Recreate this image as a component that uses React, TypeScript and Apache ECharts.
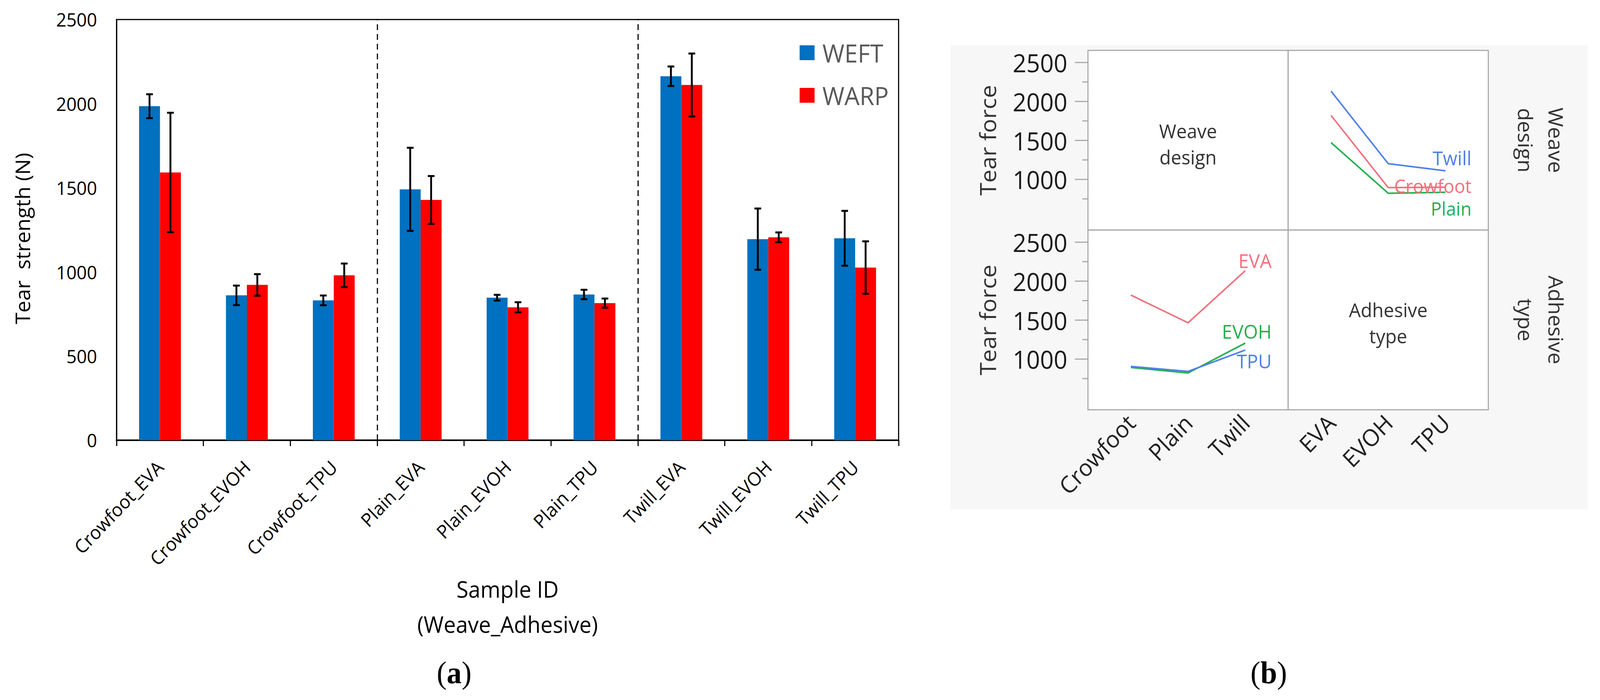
import React, { useEffect, useRef } from "react";
import * as echarts from "echarts";

// ---- Data (a): tear strength per sample ----
const categories = [
  "Crowfoot_EVA", "Crowfoot_EVOH", "Crowfoot_TPU",
  "Plain_EVA", "Plain_EVOH", "Plain_TPU",
  "Twill_EVA", "Twill_EVOH", "Twill_TPU",
];
const weftValues = [1985, 861, 831, 1491, 847, 866, 2163, 1195, 1200];
const weftErrors = [71, 58, 29, 247, 17, 28, 58, 182, 163];
const warpValues = [1591, 923, 980, 1428, 790, 815, 2111, 1206, 1026];
const warpErrors = [355, 64, 70, 142, 30, 27, 187, 29, 156];
const groupBoundaries = [3, 6];

// ---- Data (b): interaction profiles ----
const weaves = ["Crowfoot", "Plain", "Twill"];
const adhesives = ["EVA", "EVOH", "TPU"];
// weave lines plotted over adhesive type (top-right panel)
const twillLine = [2132, 1202, 1110];
const crowfootLine = [1821, 895, 900];
const plainLine = [1472, 822, 835];
// adhesive lines plotted over weave design (bottom-left panel)
const evaLine = [1821, 1466, 2134];
const evohLine = [893, 822, 1205];
const tpuLine = [906, 842, 1116];
const majorTicksB = [1000, 1500, 2000, 2500];
const minorTicksB = [750, 1250, 1750, 2250];

const W = 4284;
const H = 1792;
const X_MIN_B = -0.75;
const X_MAX_B = 2.75;
const Y_MIN_B = 350;
const Y_MAX_B = 2655;
const FONT = '"Open Sans", "Noto Sans", "DejaVu Sans", sans-serif';
const SERIF = '"Liberation Serif", "DejaVu Serif", serif';
const BLUE = "#0070C0";
const RED = "#FF0000";
const L_BLUE = "#4f80e6";
const L_RED = "#f2707c";
const L_GREEN = "#22b04e";
const PANEL_BORDER = "#a9a9a9";
const plain = (v: number) => String(v);

function errorRender(offset: number) {
  return (params: any, api: any) => {
    const idx = api.value(0);
    const lo = api.value(1);
    const hi = api.value(2);
    const pHi = api.coord([idx, hi]);
    const pLo = api.coord([idx, lo]);
    const x = pHi[0] + offset;
    const cap = 9;
    const style = { stroke: "#000", lineWidth: 5 };
    return {
      type: "group",
      children: [
        { type: "line", shape: { x1: x, y1: pHi[1], x2: x, y2: pLo[1] }, style },
        { type: "line", shape: { x1: x - cap, y1: pHi[1], x2: x + cap, y2: pHi[1] }, style },
        { type: "line", shape: { x1: x - cap, y1: pLo[1], x2: x + cap, y2: pLo[1] }, style },
      ],
    };
  };
}

// y-axis tick marks of the (b) panels, drawn outward from the panel's left edge
function tickRender(params: any, api: any) {
  const v = api.value(1);
  const p = api.coord([api.value(0), v]);
  const len = majorTicksB.includes(v) ? 35 : 15;
  return {
    type: "line",
    shape: { x1: p[0] - len, y1: p[1], x2: p[0], y2: p[1] },
    style: { stroke: PANEL_BORDER, lineWidth: 3 },
  };
}

function tickSeries(xi: number, yi: number) {
  return {
    name: "ticks" + yi,
    type: "custom",
    xAxisIndex: xi,
    yAxisIndex: yi,
    clip: false,
    silent: true,
    renderItem: tickRender,
    data: [...majorTicksB, ...minorTicksB].map((v) => [X_MIN_B, v]),
    encode: { x: 0, y: 1 },
  };
}

function bAxisX(gridIndex: number, names: string[] | null) {
  return {
    gridIndex,
    type: "value",
    min: X_MIN_B,
    max: X_MAX_B,
    axisLine: { show: false },
    axisTick: { show: false },
    splitLine: { show: false },
    axisLabel: names
      ? {
          show: true,
          customValues: [0, 1, 2],
          formatter: (v: number) => names[Math.round(v)] ?? "",
          rotate: 45,
          fontSize: 60,
          fontFamily: FONT,
          color: "#222",
          margin: 22,
        }
      : { show: false },
  };
}

function bAxisYLeft(gridIndex: number) {
  return {
    gridIndex,
    type: "value",
    position: "left",
    min: Y_MIN_B,
    max: Y_MAX_B,
    axisLine: { show: false },
    splitLine: { show: false },
    axisTick: { show: false },
    axisLabel: {
      show: true,
      customValues: majorTicksB,
      formatter: plain,
      fontSize: 64,
      fontFamily: FONT,
      color: "#1a1a1a",
      margin: 55,
    },
    name: "Tear force",
    nameLocation: "middle",
    nameRotate: 90,
    nameGap: 239,
    nameTextStyle: { fontSize: 60, fontFamily: FONT, color: "#333" },
  };
}

function bAxisYRight(gridIndex: number, title: string) {
  return {
    gridIndex,
    type: "value",
    position: "right",
    min: Y_MIN_B,
    max: Y_MAX_B,
    axisLine: { show: false },
    axisTick: { show: false },
    axisLabel: { show: false },
    splitLine: { show: false },
    name: title,
    nameLocation: "middle",
    nameRotate: -90,
    nameGap: 59,
    nameTextStyle: { fontSize: 54, fontFamily: FONT, color: "#333", lineHeight: 82 },
  };
}

function lineSeries(name: string, values: number[], color: string, xi: number, yi: number) {
  return {
    name,
    type: "line",
    xAxisIndex: xi,
    yAxisIndex: yi,
    data: values.map((v, i) => [i, v]),
    symbol: "none",
    lineStyle: { color, width: 4 },
    itemStyle: { color },
    silent: true,
  };
}

function txt(text: string, x: number, y: number, size: number, color: string, align = "center", lineHeight?: number) {
  return {
    type: "text",
    x,
    y,
    z: 50,
    style: {
      text,
      fill: color,
      fontSize: size,
      fontFamily: FONT,
      align,
      verticalAlign: "middle",
      lineHeight: lineHeight ?? size,
    },
  };
}

function panelLabel(letter: string, x: number, y: number) {
  return {
    type: "text",
    x,
    y,
    z: 50,
    style: {
      text: `{p|(}{b|${letter}}{p|)}`,
      align: "center",
      verticalAlign: "middle",
      rich: {
        p: { fontSize: 80, fontFamily: SERIF, fill: "#000", fontWeight: "normal" },
        b: { fontSize: 80, fontFamily: SERIF, fill: "#000", fontWeight: "bold" },
      },
    },
  };
}

export default function App() {
  const ref = useRef<HTMLDivElement>(null);
  const sx = typeof window !== "undefined" ? window.innerWidth / W : 1;
  const sy = typeof window !== "undefined" ? window.innerHeight / H : 1;
  useEffect(() => {
    if (!ref.current) return;
    const chart = echarts.init(ref.current, undefined, { renderer: "svg" });
    const option: any = {
      animation: false,
      backgroundColor: "#ffffff",
      graphic: [
        { type: "rect", z: -10, shape: { x: 2545, y: 116, width: 1707, height: 1188 }, style: { fill: "#f7f7f7" } },
        txt("Weave\ndesign", 3181, 368, 50, "#333", "center", 67),
        txt("Adhesive\ntype", 3717, 826, 50, "#333", "center", 67),
        txt("Twill", 3940, 404, 50, L_BLUE, "right", 40),
        txt("Crowfoot", 3940, 476, 48, L_RED, "right", 38),
        txt("Plain", 3940, 534, 48, L_GREEN, "right", 38),
        txt("EVA", 3405, 667, 50, L_RED, "right", 40),
        txt("EVOH", 3405, 848, 50, L_GREEN, "right", 40),
        txt("TPU", 3405, 924, 50, L_BLUE, "right", 40),
        panelLabel("a", 1216, 1722),
        panelLabel("b", 3397, 1722),
      ],
      legend: {
        data: ["WEFT", "WARP"],
        orient: "vertical",
        left: 2136,
        top: 98,
        icon: "rect",
        itemWidth: 40,
        itemHeight: 38,
        itemGap: 45,
        textStyle: { fontSize: 64, color: "#595959", fontFamily: FONT, lineHeight: 64, padding: [0, 0, 0, 16] },
      },
      grid: [
        { left: 312, top: 50, width: 2094, height: 1077, show: true, borderColor: "#000", borderWidth: 3, backgroundColor: "transparent" },
        { left: 2913, top: 129, width: 536, height: 460, show: true, borderColor: PANEL_BORDER, borderWidth: 3, backgroundColor: "#fff" },
        { left: 3449, top: 129, width: 536, height: 460, show: true, borderColor: PANEL_BORDER, borderWidth: 3, backgroundColor: "#fff" },
        { left: 2913, top: 589, width: 536, height: 460, show: true, borderColor: PANEL_BORDER, borderWidth: 3, backgroundColor: "#fff" },
        { left: 3449, top: 589, width: 536, height: 460, show: true, borderColor: PANEL_BORDER, borderWidth: 3, backgroundColor: "#fff" },
      ],
      xAxis: [
        {
          gridIndex: 0,
          type: "category",
          data: categories,
          axisLine: { show: true, lineStyle: { color: "#000", width: 4 } },
          axisTick: { show: true, length: 15, interval: 0, lineStyle: { color: "#000", width: 3 } },
          axisLabel: { interval: 0, rotate: 45, fontSize: 48, fontFamily: FONT, color: "#000", margin: 60 },
          name: "Sample ID\n(Weave_Adhesive)",
          nameLocation: "middle",
          nameGap: 278,
          nameTextStyle: { fontSize: 58, fontFamily: FONT, color: "#000", lineHeight: 90 },
        },
        { gridIndex: 0, type: "value", min: 0, max: 9, show: false },
        bAxisX(1, null),
        bAxisX(2, null),
        bAxisX(3, weaves),
        bAxisX(4, adhesives),
      ],
      yAxis: [
        {
          gridIndex: 0,
          type: "value",
          min: 0,
          max: 2500,
          interval: 500,
          axisLine: { show: true, lineStyle: { color: "#000", width: 3 } },
          axisTick: { show: false },
          splitLine: { show: false },
          axisLabel: { fontSize: 48, fontFamily: FONT, color: "#000", margin: 52, formatter: plain },
          name: "Tear  strength (N)",
          nameLocation: "middle",
          nameGap: 225,
          nameTextStyle: { fontSize: 54, fontFamily: FONT, color: "#000", padding: [0, 44, 0, 0] },
        },
        bAxisYLeft(1),
        bAxisYRight(2, "Weave\ndesign"),
        bAxisYLeft(3),
        bAxisYRight(4, "Adhesive\ntype"),
      ],
      series: [
        {
          name: "WEFT",
          type: "bar",
          xAxisIndex: 0,
          yAxisIndex: 0,
          data: weftValues,
          barWidth: 56,
          barGap: "0%",
          itemStyle: { color: BLUE },
        },
        {
          name: "WARP",
          type: "bar",
          xAxisIndex: 0,
          yAxisIndex: 0,
          data: warpValues,
          barWidth: 56,
          barGap: "0%",
          itemStyle: { color: RED },
        },
        {
          name: "WEFT error",
          type: "custom",
          xAxisIndex: 0,
          yAxisIndex: 0,
          renderItem: errorRender(-28),
          data: weftValues.map((v, i) => [i, v - weftErrors[i], v + weftErrors[i]]),
          encode: { x: 0, y: [1, 2] },
          z: 10,
          silent: true,
        },
        {
          name: "WARP error",
          type: "custom",
          xAxisIndex: 0,
          yAxisIndex: 0,
          renderItem: errorRender(28),
          data: warpValues.map((v, i) => [i, v - warpErrors[i], v + warpErrors[i]]),
          encode: { x: 0, y: [1, 2] },
          z: 10,
          silent: true,
        },
        {
          name: "dividers",
          type: "line",
          xAxisIndex: 1,
          yAxisIndex: 0,
          data: [],
          silent: true,
          markLine: {
            silent: true,
            symbol: "none",
            label: { show: false },
            lineStyle: { color: "#000", width: 3, type: [15, 10] },
            data: groupBoundaries.map((b) => ({ xAxis: b })),
          },
        },
        tickSeries(2, 1),
        tickSeries(4, 3),
        lineSeries("Twill", twillLine, L_BLUE, 3, 2),
        lineSeries("Crowfoot", crowfootLine, L_RED, 3, 2),
        lineSeries("Plain", plainLine, L_GREEN, 3, 2),
        lineSeries("EVA", evaLine, L_RED, 4, 3),
        lineSeries("EVOH", evohLine, L_GREEN, 4, 3),
        lineSeries("TPU", tpuLine, L_BLUE, 4, 3),
      ],
    };
    chart.setOption(option);
    return () => chart.dispose();
  }, []);
  return (
    <div
      style={{ position: "fixed", left: 0, top: 0, width: "100vw", height: "100vh", overflow: "hidden", background: "#fff" }}
    >
      <div
        ref={ref}
        style={{ width: W, height: H, transform: `scale(${sx}, ${sy})`, transformOrigin: "0 0" }}
      />
    </div>
  );
}
